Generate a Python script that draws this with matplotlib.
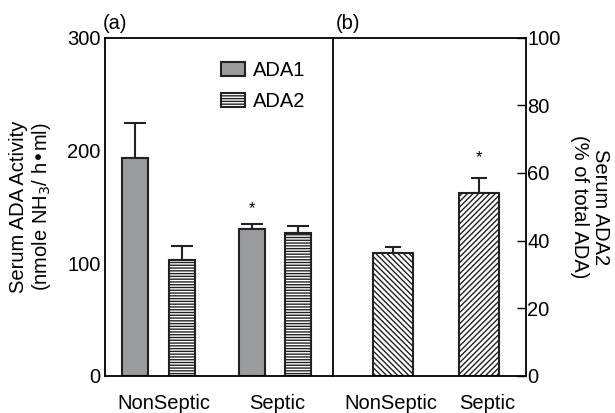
import matplotlib
matplotlib.use("Agg")
import matplotlib.pyplot as plt
import numpy as np

plt.rcParams['font.family'] = ['Liberation Sans', 'DejaVu Sans']
plt.rcParams['hatch.linewidth'] = 1.0

# Data
groups = ["NonSeptic", "Septic"]
ada1 = [193, 130]
ada1_err = [31, 5]
ada2 = [103, 127]
ada2_err = [12, 6]
pct_groups = ["NonSeptic", "Septic"]
pct_ada2 = [36.2, 54.0]
pct_err = [1.8, 4.4]
left_ticks = [0, 100, 200, 300]
right_ticks = [0, 20, 40, 60, 80, 100]

gray = "#9a9b9f"
edge = "#222222"
FS = 14.5

fig = plt.figure(figsize=(6.15, 4.13), dpi=100)
axL = fig.add_axes([0.1707, 0.0903, 0.3713, 0.8184])
axR = fig.add_axes([0.5420, 0.0903, 0.3128, 0.8184])

x = np.arange(len(groups))
w = 0.223
off = 0.2
axL.bar(x - off, ada1, w, color=gray, edgecolor=edge, linewidth=1.5, label="ADA1", zorder=2)
axL.bar(x + off, ada2, w, color="white", edgecolor=edge, linewidth=1.5, hatch="------", label="ADA2", zorder=2)
axL.errorbar(x - off, ada1, yerr=[np.zeros(len(ada1)), ada1_err], fmt="none", ecolor=edge,
             elinewidth=1.5, capsize=8, capthick=1.5, zorder=1)
axL.errorbar(x + off, ada2, yerr=[np.zeros(len(ada2)), ada2_err], fmt="none", ecolor=edge,
             elinewidth=1.5, capsize=8, capthick=1.5, zorder=1)
axL.text(x[1] - off, ada1[1] + ada1_err[1] + 7, "*", ha="center", va="bottom", fontsize=12)

axL.set_xlim(-0.459, 1.5)
axL.set_ylim(0, 300)
axL.set_yticks(left_ticks)
axL.tick_params(axis='y', length=0, pad=3, labelsize=FS)
axL.set_xticks([0.05, 1.02])
axL.set_xticklabels(groups, fontsize=FS)
axL.tick_params(axis='x', length=0, pad=13)
axL.set_ylabel("Serum ADA Activity\n(nmole NH$_3$/ h\u2022ml)", fontsize=FS, labelpad=10, linespacing=1.15)
for s in axL.spines.values():
    s.set_linewidth(1.3)
axL.spines['right'].set_visible(False)
axL.legend(loc="upper left", bbox_to_anchor=(0.474, 0.955), frameon=False, fontsize=FS,
           handlelength=1.2, handleheight=0.75, handletextpad=0.35, labelspacing=0.6,
           borderaxespad=0)
axL.text(-0.01, 1.015, "(a)", transform=axL.transAxes, ha="left", va="bottom", fontsize=FS)

xr = np.arange(len(pct_groups))
wr = 0.47
axR.bar(xr[0], pct_ada2[0], wr, color="white", edgecolor=edge, linewidth=1.5, hatch="\\\\\\\\\\\\", zorder=2)
axR.bar(xr[1], pct_ada2[1], wr, color="white", edgecolor=edge, linewidth=1.5, hatch="//////", zorder=2)
axR.errorbar(xr, pct_ada2, yerr=[np.zeros(len(pct_ada2)), pct_err], fmt="none", ecolor=edge,
             elinewidth=1.5, capsize=6, capthick=1.5, zorder=1)
axR.text(xr[1], pct_ada2[1] + pct_err[1] + 4.0, "*", ha="center", va="bottom", fontsize=12)
axR.set_xlim(-0.70, 1.545)
axR.set_ylim(0, 100)
axR.yaxis.tick_right()
axR.yaxis.set_label_position("right")
axR.set_yticks(right_ticks)
axR.tick_params(axis='y', direction='in', length=6.5, width=1.0, pad=1, labelsize=FS)
axR.set_xticks([xr[0] - 0.03, xr[1] + 0.1])
axR.set_xticklabels(pct_groups, fontsize=FS)
axR.tick_params(axis='x', length=0, pad=13)
axR.set_ylabel("Serum ADA2\n(% of total ADA)", fontsize=FS, rotation=270, labelpad=36, linespacing=1.15)
for s in axR.spines.values():
    s.set_linewidth(1.3)
axR.text(0.01, 1.015, "(b)", transform=axR.transAxes, ha="left", va="bottom", fontsize=FS)

fig.savefig("out.png", dpi=100)
